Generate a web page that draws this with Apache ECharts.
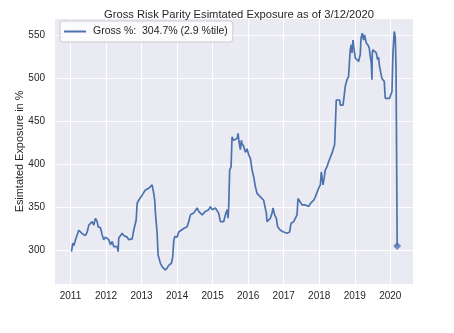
<!DOCTYPE html>
<html>
<head>
<meta charset="utf-8">
<script src="https://cdn.jsdelivr.net/npm/echarts@6/dist/echarts.min.js"></script>
<style>html,body{margin:0;padding:0;background:#fff}#c{width:454px;height:333px}</style>
</head>
<body>
<div id="c"></div>
<script>
const years = [2011.028,2011.065,2011.093,2011.141,2011.197,2011.233,2011.281,2011.329,2011.422,2011.470,2011.515,2011.562,2011.610,2011.655,2011.703,2011.751,2011.779,2011.844,2011.891,2011.936,2011.984,2012.032,2012.077,2012.125,2012.173,2012.218,2012.265,2012.313,2012.341,2012.358,2012.406,2012.454,2012.499,2012.547,2012.594,2012.639,2012.687,2012.735,2012.780,2012.828,2012.848,2012.876,2012.921,2012.968,2013.016,2013.061,2013.109,2013.157,2013.202,2013.250,2013.297,2013.326,2013.342,2013.371,2013.390,2013.418,2013.438,2013.466,2013.503,2013.531,2013.579,2013.624,2013.672,2013.719,2013.764,2013.812,2013.840,2013.877,2013.905,2013.933,2014.001,2014.046,2014.093,2014.186,2014.282,2014.327,2014.375,2014.422,2014.467,2014.515,2014.563,2014.608,2014.656,2014.704,2014.749,2014.796,2014.844,2014.889,2014.937,2014.985,2015.030,2015.078,2015.125,2015.170,2015.218,2015.266,2015.311,2015.359,2015.407,2015.435,2015.452,2015.480,2015.519,2015.547,2015.592,2015.640,2015.688,2015.716,2015.744,2015.781,2015.809,2015.828,2015.873,2015.921,2015.969,2016.014,2016.062,2016.110,2016.155,2016.202,2016.250,2016.295,2016.343,2016.391,2016.436,2016.484,2016.512,2016.531,2016.576,2016.624,2016.672,2016.700,2016.745,2016.793,2016.830,2016.906,2016.998,2017.094,2017.167,2017.206,2017.280,2017.327,2017.375,2017.403,2017.448,2017.516,2017.609,2017.701,2017.749,2017.797,2017.842,2017.890,2017.938,2017.983,2018.030,2018.059,2018.106,2018.143,2018.171,2018.219,2018.264,2018.312,2018.359,2018.404,2018.433,2018.472,2018.480,2018.517,2018.573,2018.593,2018.641,2018.669,2018.705,2018.733,2018.762,2018.781,2018.826,2018.854,2018.874,2018.902,2018.922,2018.950,2018.967,2018.995,2019.015,2019.062,2019.107,2019.136,2019.155,2019.175,2019.211,2019.248,2019.276,2019.304,2019.324,2019.372,2019.408,2019.436,2019.465,2019.484,2019.493,2019.512,2019.557,2019.605,2019.642,2019.670,2019.698,2019.737,2019.765,2019.810,2019.830,2019.858,2019.906,2019.979,2020.018,2020.047,2020.075,2020.111,2020.139,2020.162,2020.176,2020.194];
const gross = [298,308,305,312,314,323,325,319,317,321,329,327,333,329,337,333,327,326,317.5,312,315,313,312,306,310,304,302,304,298,314,315,319.5,317,317,315,312,313,313,323,325,335,354.5,358,357,364,366,370,369,372,371,376,374,366,358,343,341,319.5,294,292,284.5,280.5,279,276.6,279,282,280,284.5,292,310,315.5,315,321,323,325,327,333,341,341,343,345,349,345,343,341,343,345,347,347,350.6,347,347,349,349,343,333,331,333,341,347,337,350.6,393.5,397,432,428,426,430,436,426,417,428,424,421,414,418,411,407,393.5,385.6,374,366,364,362,362,358,357,343,333,331,337,343,349,341,337,327,323,321,319.5,321,331,333,337,341,360,358,352.6,352.6,350.6,354,356,358,362,364,372,376,391,376,385,393.5,397,403,404,413,419,422.7,424,475,477,475,469,467,469,481,491,492,498.6,502.5,522,533.6,539.5,530,545,538,530,524,524,520,522,528,547,553,545,551,551,541.5,539,535.6,526,518,498.6,530,533.6,532,530,522,525,514,506,500,500,496.7,477,475,477,479,485,530,555,549,512,514,304.7];
const yTicks = [300,350,400,450,500,550];
const xTicks = [2011,2012,2013,2014,2015,2016,2017,2018,2019,2020];
const legendLabel = 'Gross %:  304.7% (2.9 %tile)';
const titleText = 'Gross Risk Parity Esimtated Exposure as of 3/12/2020';
const yName = 'Esimtated Exposure in %';

const seriesData = years.map((y, i) => [y, gross[i]]);
const last = seriesData.length - 1;
const FONT = '"Liberation Sans", Arial, sans-serif';
const TXT = '#262626';

const chart = echarts.init(document.getElementById('c'), null, {renderer: 'canvas'});
chart.setOption({
  animation: false,
  backgroundColor: '#ffffff',
  title: {
    text: titleText, left: 234, top: 4, textAlign: 'center',
    textStyle: {fontFamily: FONT, fontSize: 11.2, fontWeight: 'normal', color: TXT}
  },
  legend: {
    data: [legendLabel], left: 60, top: 21,
    backgroundColor: 'rgba(255,255,255,0.8)', borderColor: '#cccccc', borderWidth: 1, borderRadius: 3,
    padding: [5, 5, 5, 4], itemWidth: 22, itemHeight: 2, itemGap: 6,
    icon: 'rect',
    textStyle: {fontFamily: FONT, fontSize: 10.5, color: TXT, padding: [0, 0, 0, 2]}
  },
  grid: {left: 55, right: 41, top: 19, bottom: 49, show: true, backgroundColor: '#EAEAF2', borderWidth: 0},
  xAxis: {
    type: 'value', min: 2010.564, max: 2020.639,
    axisLine: {show: false},
    axisTick: {show: false, customValues: xTicks},
    axisLabel: {customValues: xTicks, fontFamily: FONT, fontSize: 10, color: TXT, margin: 7, formatter: v => String(Math.round(v))},
    splitLine: {show: true, lineStyle: {color: '#ffffff', width: 1}}
  },
  yAxis: {
    type: 'value', min: 260.3, max: 569.5,
    name: yName, nameLocation: 'middle', nameGap: 30, nameRotate: 90, nameMoveOverlap: false,
    nameTextStyle: {fontFamily: FONT, fontSize: 10.9, color: TXT},
    axisLine: {show: false},
    axisTick: {show: false, customValues: yTicks},
    axisLabel: {customValues: yTicks, fontFamily: FONT, fontSize: 10, color: TXT, margin: 10},
    splitLine: {show: true, lineStyle: {color: '#ffffff', width: 1}}
  },
  series: [
    {
      name: legendLabel, type: 'line', data: seriesData, showSymbol: false, symbol: 'none',
      lineStyle: {color: '#4C72B0', width: 1.7}, itemStyle: {color: '#4C72B0'}
    },
    {
      name: 'last', type: 'scatter', data: [seriesData[last]], symbol: 'diamond', symbolSize: [8, 8],
      itemStyle: {color: '#4C72B0'}
    }
  ]
});
</script>
</body>
</html>
